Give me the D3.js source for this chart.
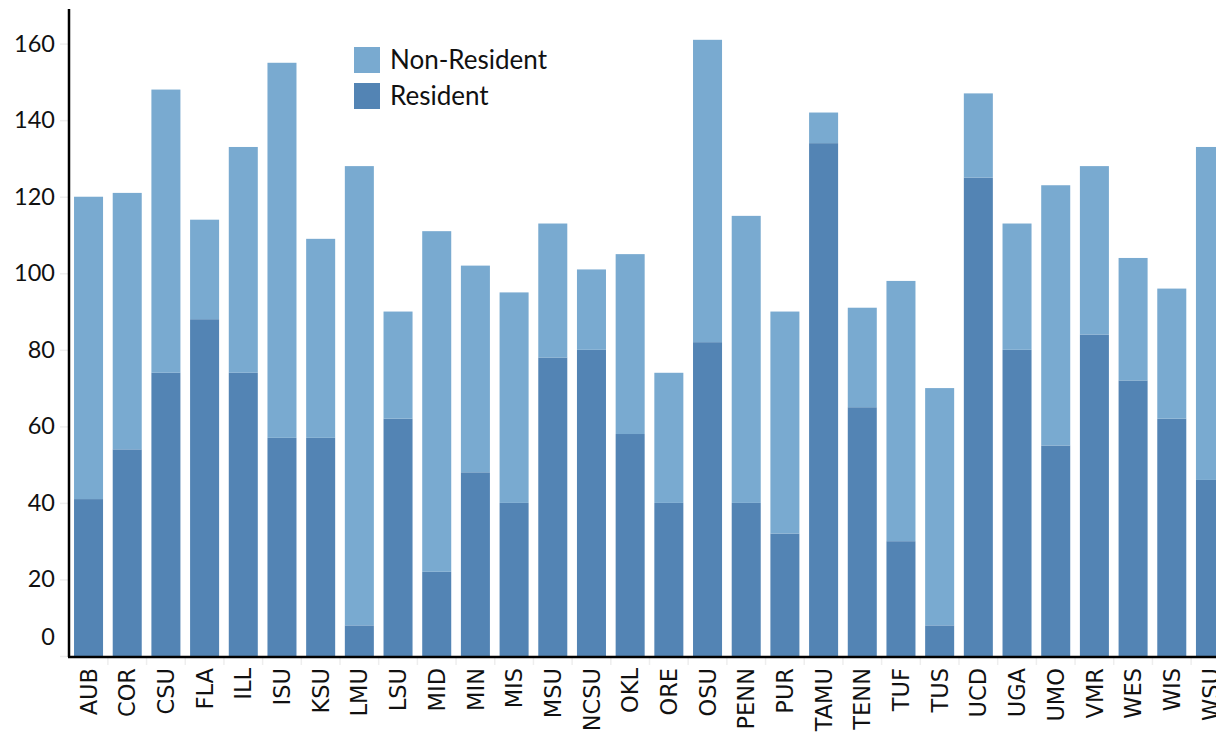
<!DOCTYPE html>
<html>
<head>
<meta charset="utf-8">
<script src="https://cdn.jsdelivr.net/npm/d3@7"></script>
<style>
  html, body { margin: 0; padding: 0; background: #fff; }
  svg { display: block; }
</style>
</head>
<body>
<svg id="chart" width="1216" height="741"></svg>
<script>
const categories = ["AUB","COR","CSU","FLA","ILL","ISU","KSU","LMU","LSU","MID","MIN","MIS","MSU","NCSU","OKL","ORE","OSU","PENN","PUR","TAMU","TENN","TUF","TUS","UCD","UGA","UMO","VMR","WES","WIS","WSU"];
const resident = [41,54,74,88,74,57,57,8,62,22,48,40,78,80,58,40,82,40,32,134,65,30,8,125,80,55,84,72,62,46];
const total    = [120,121,148,114,133,155,109,128,90,111,102,95,113,101,105,74,161,115,90,142,91,98,70,147,113,123,128,104,96,133];
const nonResident = total.map((t, i) => t - resident[i]);
const seriesNames = ["Resident", "Non-Resident"];
const legendOrder = ["Non-Resident", "Resident"];
const yTicks = [0,20,40,60,80,100,120,140,160];

const colors = { "Resident": "#5384b4", "Non-Resident": "#79aad0" };

const svg = d3.select("#chart");
const x0 = 69, yBase = 656, yTop = 9;

const rows = categories.map((c, i) => ({ cat: c, "Resident": resident[i], "Non-Resident": nonResident[i] }));
const stack = d3.stack().keys(seriesNames)(rows);

const x = d3.scaleBand().domain(categories).range([x0, 1230]).paddingInner(0.25).paddingOuter(0.13);
const y = d3.scaleLinear().domain([0, d3.max(total) * 1.05]).range([yBase, yTop]);

// bars
svg.append("g").selectAll("g").data(stack).join("g")
  .attr("fill", d => colors[d.key])
  .selectAll("rect").data(d => d).join("rect")
  .attr("x", d => x(d.data.cat))
  .attr("y", d => y(d[1]))
  .attr("width", x.bandwidth())
  .attr("height", d => y(d[0]) - y(d[1]));

// y axis
const yAxis = svg.append("g").attr("transform", `translate(${x0},0)`)
  .call(d3.axisLeft(y).tickValues(yTicks).tickSize(9).tickPadding(5).tickSizeOuter(0));
yAxis.select(".domain").remove();
yAxis.selectAll(".tick line").attr("stroke", "#eeeeee").attr("stroke-width", 1.5);
yAxis.selectAll(".tick text")
  .attr("font-family", "Lato, 'Open Sans', sans-serif")
  .attr("font-size", 23.5)
  .attr("fill", "#111")
  .attr("dy", d => d === 0 ? "-0.5em" : "0.32em");
svg.append("line").attr("x1", x0).attr("x2", x0).attr("y1", yTop).attr("y2", yBase + 1)
  .attr("stroke", "#000").attr("stroke-width", 2.5);

// x axis
const step = x.step();
const gap = step * x.paddingInner();
const xt = svg.append("g");
xt.selectAll("line").data(categories).join("line")
  .attr("x1", d => x(d) + x.bandwidth() + gap / 2)
  .attr("x2", d => x(d) + x.bandwidth() + gap / 2)
  .attr("y1", yBase).attr("y2", yBase + 9)
  .attr("stroke", "#eeeeee").attr("stroke-width", 1.5);
const xAxis = svg.append("g").attr("transform", `translate(0,${yBase})`)
  .call(d3.axisBottom(x).tickSize(0).tickPadding(0));
xAxis.select(".domain").remove();
xAxis.selectAll(".tick text")
  .attr("font-family", "'DejaVu Sans', sans-serif")
  .attr("font-size", 22.5)
  .attr("fill", "#111")
  .attr("text-anchor", "end")
  .attr("transform", "rotate(-90)")
  .attr("x", -12).attr("y", 0).attr("dy", "0.36em");
svg.append("line").attr("x1", x0 - 1).attr("x2", 1216).attr("y1", yBase + 1).attr("y2", yBase + 1)
  .attr("stroke", "#000").attr("stroke-width", 2.5);

// legend
const lg = svg.append("g").attr("transform", "translate(354,47)");
legendOrder.forEach((k, i) => {
  const g = lg.append("g").attr("transform", `translate(0,${i * 36})`);
  g.append("rect").attr("width", 26).attr("height", 26).attr("fill", colors[k]);
  g.append("text").attr("x", 36).attr("y", 13).attr("dy", "0.35em")
    .attr("font-family", "Lato, 'Open Sans', sans-serif").attr("font-size", 26)
    .attr("fill", "#111").text(k);
});
</script>
</body>
</html>
